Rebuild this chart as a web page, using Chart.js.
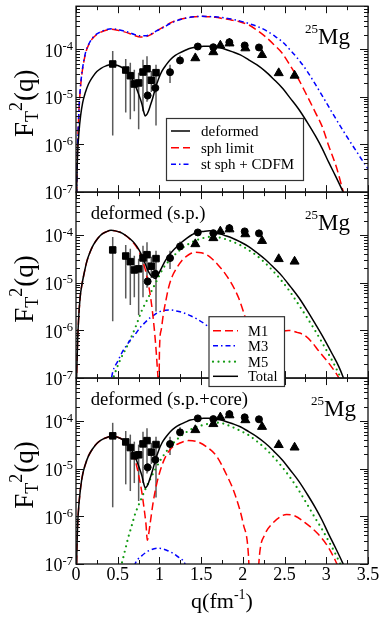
<!DOCTYPE html>
<html>
<head>
<meta charset="utf-8">
<script src="https://cdn.jsdelivr.net/npm/chart.js@4.4.1/dist/chart.umd.min.js"></script>
<style>
  html, body { margin: 0; padding: 0; background: #fff; }
  canvas { display: block; }
</style>
</head>
<body>
<canvas id="fig" width="382" height="618"></canvas>
<script>
// ---- data: [q (fm^-1), F_T^2] ----

// experimental points (same in all three panels)
const expSquares = [[0.44,4.9e-5],[0.596,3.65e-5],[0.651,2.78e-5],[0.699,1.86e-5],[0.751,1.96e-5],[0.803,3.32e-5],[0.851,3.89e-5],[0.903,2.23e-5],[0.959,3.22e-5]];
const errSquares = [[1.55e-6,9.2e-5],[4.7e-6,6.2e-5],[3.4e-6,5.2e-5],[5e-6,3.7e-5],[2.1e-6,3.2e-5],[5e-6,6e-5],[7.9e-6,7.1e-5],[1.26e-5,3.5e-5],[2.5e-6,4.7e-5]];
const expCircles = [[0.859,1.07e-5],[0.951,1.54e-5],[1.127,3.3e-5],[1.247,5.8e-5],[1.46,1.14e-4],[1.646,1.1e-4],[1.838,1.4e-4],[2.022,1.2e-4],[2.193,1.09e-4]];
const errCircles = [[8.5e-6,1.3e-5],[1.2e-5,1.9e-5],[1.95e-5,4.7e-5],[5e-5,7.4e-5],[1.05e-4,1.24e-4],[1e-4,1.2e-4],[1.3e-4,1.5e-4],[1.1e-4,1.3e-4],[1e-4,1.18e-4]];
const expTriangles = [[1.43,6.5e-5],[1.646,8.7e-5],[1.73,1.2e-4],[1.84,1.33e-4],[2.03,1.05e-4],[2.23,7.6e-5],[2.43,3.16e-5],[2.62,2.8e-5]];

// panel 1 (and total of panel 3): deformed
const deformed = [[0.003,3.2e-8],[0.01,1.78e-7],[0.02,6.8e-7],[0.035,1.78e-6],[0.055,3.98e-6],[0.08,7.6e-6],[0.11,1.2e-5],[0.15,1.86e-5],[0.2,2.63e-5],[0.25,3.39e-5],[0.3,3.98e-5],[0.36,4.47e-5],[0.43,4.79e-5],[0.5,4.57e-5],[0.567,3.98e-5],[0.62,3.24e-5],[0.67,2.4e-5],[0.71,1.74e-5],[0.75,1.15e-5],[0.79,7.1e-6],[0.81,5e-6],[0.83,3.98e-6],[0.85,4.27e-6],[0.87,5.1e-6],[0.89,6.5e-6],[0.92,9.5e-6],[0.95,1.48e-5],[0.99,2.4e-5],[1.03,3.47e-5],[1.08,4.68e-5],[1.13,6e-5],[1.19,7.4e-5],[1.25,8.5e-5],[1.31,9.5e-5],[1.37,1.05e-4],[1.45,1.11e-4],[1.53,1.15e-4],[1.61,1.15e-4],[1.69,1.12e-4],[1.77,1.02e-4],[1.87,8.9e-5],[1.97,7.6e-5],[2.07,6e-5],[2.17,4.68e-5],[2.27,3.43e-5],[2.37,2.34e-5],[2.47,1.55e-5],[2.57,9.3e-6],[2.67,5.5e-6],[2.77,2.95e-6],[2.87,1.51e-6],[2.95,8.3e-7],[3.03,4.2e-7],[3.11,2.19e-7],[3.2,1.02e-7],[3.24,7.1e-8]];
const sphLimit = [[0.005,5e-8],[0.015,5e-7],[0.03,3.16e-6],[0.045,1e-5],[0.065,2.51e-5],[0.09,5e-5],[0.12,8.9e-5],[0.16,1.32e-4],[0.2,1.7e-4],[0.25,2.04e-4],[0.3,2.29e-4],[0.36,2.51e-4],[0.43,2.63e-4],[0.5,2.51e-4],[0.57,2.34e-4],[0.64,2.14e-4],[0.7,1.95e-4],[0.77,1.8e-4],[0.83,1.82e-4],[0.9,2.04e-4],[0.97,2.45e-4],[1.05,2.95e-4],[1.13,3.55e-4],[1.21,4.07e-4],[1.31,4.47e-4],[1.41,4.79e-4],[1.5,4.9e-4],[1.6,4.79e-4],[1.67,4.68e-4],[1.77,4.37e-4],[1.87,4.07e-4],[1.97,3.72e-4],[2.07,3.24e-4],[2.17,2.51e-4],[2.27,1.84e-4],[2.37,1.26e-4],[2.47,8.3e-5],[2.57,4.47e-5],[2.67,2.29e-5],[2.77,1.05e-5],[2.87,4.68e-6],[2.95,2.4e-6],[3.03,9.3e-7],[3.12,3.4e-7],[3.2,1.07e-7],[3.23,7.1e-8]];
const stSphCdfm = [[0.005,5e-8],[0.015,5e-7],[0.03,3.16e-6],[0.045,1.05e-5],[0.065,2.63e-5],[0.09,5.25e-5],[0.12,9.3e-5],[0.16,1.35e-4],[0.2,1.74e-4],[0.25,2.09e-4],[0.3,2.34e-4],[0.36,2.57e-4],[0.43,2.69e-4],[0.5,2.6e-4],[0.57,2.43e-4],[0.64,2.24e-4],[0.7,2.04e-4],[0.77,1.91e-4],[0.83,1.91e-4],[0.9,2.09e-4],[0.97,2.45e-4],[1.05,2.88e-4],[1.13,3.47e-4],[1.21,3.98e-4],[1.31,4.47e-4],[1.41,4.79e-4],[1.5,4.9e-4],[1.6,4.84e-4],[1.67,4.79e-4],[1.77,4.57e-4],[1.87,4.27e-4],[1.97,3.89e-4],[2.07,3.47e-4],[2.17,3.02e-4],[2.27,2.51e-4],[2.37,1.95e-4],[2.47,1.45e-4],[2.57,9.5e-5],[2.67,6e-5],[2.77,3.47e-5],[2.87,1.82e-5],[2.97,9.3e-6],[3.07,4.68e-6],[3.17,2.4e-6],[3.27,1.26e-6],[3.37,6.8e-7],[3.43,4.68e-7],[3.5,3.1e-7]];

// panel 2: deformed (s.p.)
const spTotal = [[0.003,4e-8],[0.01,1.58e-7],[0.02,6.3e-7],[0.03,1.58e-6],[0.05,5e-6],[0.07,8.9e-6],[0.1,1.66e-5],[0.13,2.82e-5],[0.17,4.47e-5],[0.21,6.3e-5],[0.26,8.5e-5],[0.31,1.05e-4],[0.36,1.17e-4],[0.42,1.26e-4],[0.47,1.23e-4],[0.53,1.15e-4],[0.59,1e-4],[0.65,8.3e-5],[0.7,6.8e-5],[0.75,5.1e-5],[0.79,3.72e-5],[0.83,2.51e-5],[0.87,1.7e-5],[0.91,1.35e-5],[0.95,1.23e-5],[0.99,1.55e-5],[1.03,2.14e-5],[1.08,3.09e-5],[1.15,4.47e-5],[1.21,5.75e-5],[1.27,7.2e-5],[1.33,8.7e-5],[1.39,1.02e-4],[1.45,1.15e-4],[1.53,1.2e-4],[1.6,1.23e-4],[1.67,1.15e-4],[1.77,1e-4],[1.87,8.7e-5],[1.97,7.2e-5],[2.07,5.75e-5],[2.17,4.27e-5],[2.27,3.09e-5],[2.37,2.09e-5],[2.47,1.38e-5],[2.57,8.3e-6],[2.67,4.9e-6],[2.77,2.63e-6],[2.87,1.35e-6],[2.97,6.8e-7],[3.07,3.24e-7],[3.15,1.74e-7],[3.2,1.07e-7],[3.23,7.6e-8]];
const spM1 = [[0.003,4e-8],[0.01,1.58e-7],[0.02,6.3e-7],[0.03,1.58e-6],[0.05,5e-6],[0.07,8.9e-6],[0.1,1.66e-5],[0.13,2.82e-5],[0.17,4.47e-5],[0.21,6.3e-5],[0.26,8.5e-5],[0.31,1.05e-4],[0.36,1.17e-4],[0.42,1.26e-4],[0.47,1.23e-4],[0.53,1.15e-4],[0.59,1e-4],[0.65,8.1e-5],[0.7,6.5e-5],[0.75,4.79e-5],[0.79,3.24e-5],[0.83,1.91e-5],[0.87,8.9e-6],[0.9,4.17e-6],[0.93,1.51e-6],[0.955,5e-7],[0.975,1.58e-7],[0.985,5e-8],[0.99,1e-9],[1.0,3.5e-7],[1.02,1e-6],[1.047,2.19e-6],[1.08,4.47e-6],[1.107,7.6e-6],[1.15,1.32e-5],[1.207,2.04e-5],[1.27,2.95e-5],[1.327,3.63e-5],[1.37,4.07e-5],[1.427,4.37e-5],[1.5,4.27e-5],[1.55,3.98e-5],[1.6,3.55e-5],[1.7,2.4e-5],[1.8,1.45e-5],[1.9,7.4e-6],[1.95,4.79e-6],[2.0,2.69e-6],[2.05,1.32e-6],[2.1,4.47e-7],[2.13,1.26e-7],[2.15,1e-9],[2.17,1.26e-7],[2.21,3.16e-7],[2.28,5.6e-7],[2.36,7.9e-7],[2.45,9.3e-7],[2.55,1e-6],[2.65,9.1e-7],[2.745,7.8e-7],[2.83,5.6e-7],[2.905,3.8e-7],[2.99,2.51e-7],[3.065,1.7e-7],[3.145,1.05e-7],[3.18,7.9e-8]];
const spM3 = [[0.38,3.16e-8],[0.44,1.33e-7],[0.5,2.24e-7],[0.55,3.4e-7],[0.6,4.68e-7],[0.65,6.2e-7],[0.7,7.9e-7],[0.77,1.15e-6],[0.83,1.48e-6],[0.89,1.86e-6],[0.95,2.19e-6],[1.01,2.51e-6],[1.07,2.66e-6],[1.13,2.69e-6],[1.2,2.57e-6],[1.29,2.34e-6],[1.37,2.04e-6],[1.45,1.74e-6],[1.57,1.26e-6],[1.7,7.6e-7],[1.85,3.5e-7],[2.0,1.41e-7],[2.1,6.3e-8]];
const spM5 = [[0.4,5e-8],[0.447,1e-7],[0.527,2.34e-7],[0.587,3.8e-7],[0.647,6.2e-7],[0.687,9.1e-7],[0.727,1.35e-6],[0.787,2.57e-6],[0.847,4.17e-6],[0.907,6.8e-6],[0.975,1.17e-5],[1.047,2.04e-5],[1.147,3.31e-5],[1.247,4.9e-5],[1.367,6.8e-5],[1.526,8.7e-5],[1.646,9.3e-5],[1.766,8.5e-5],[1.866,7.4e-5],[1.966,6.2e-5],[2.066,4.9e-5],[2.165,3.72e-5],[2.265,2.63e-5],[2.365,1.74e-5],[2.465,1.1e-5],[2.565,6.5e-6],[2.665,3.55e-6],[2.765,1.91e-6],[2.865,1e-6],[2.945,5.75e-7],[3.025,3.24e-7],[3.09,2e-7],[3.15,1.23e-7],[3.18,9.5e-8],[3.2,7.9e-8]];

// panel 3: deformed (s.p.+core); total is the "deformed" curve above
const coreM1 = [[0.003,3.2e-8],[0.01,1.78e-7],[0.02,6.8e-7],[0.035,1.78e-6],[0.055,3.98e-6],[0.08,7.6e-6],[0.11,1.2e-5],[0.15,1.86e-5],[0.2,2.63e-5],[0.25,3.39e-5],[0.3,3.98e-5],[0.36,4.47e-5],[0.43,4.79e-5],[0.5,4.57e-5],[0.567,3.98e-5],[0.62,3.16e-5],[0.67,2.29e-5],[0.71,1.51e-5],[0.747,7.9e-6],[0.787,3.39e-6],[0.815,1.51e-6],[0.839,6.8e-7],[0.855,3.16e-7],[0.887,6.8e-7],[0.927,2.09e-6],[0.975,5.5e-6],[1.047,1.41e-5],[1.127,2.51e-5],[1.247,3.47e-5],[1.347,3.89e-5],[1.447,3.72e-5],[1.566,2.88e-5],[1.686,1.82e-5],[1.786,8.7e-6],[1.906,2.88e-6],[2.006,6.8e-7],[2.066,1.62e-7],[2.12,1e-9],[2.2,1.58e-7],[2.265,4.2e-7],[2.345,6.8e-7],[2.465,1.02e-6],[2.525,1.1e-6],[2.625,1.02e-6],[2.745,7.4e-7],[2.905,4.2e-7],[3.025,2.24e-7],[3.11,1.17e-7],[3.14,8.9e-8]];
const coreM3 = [[0.66,5e-8],[0.707,1e-7],[0.787,1.48e-7],[0.887,1.95e-7],[0.987,2.14e-7],[1.087,1.95e-7],[1.207,1.48e-7],[1.307,1e-7],[1.36,5e-8]];
const coreM5 = [[0.5,5e-8],[0.547,1e-7],[0.587,1.91e-7],[0.627,3.63e-7],[0.667,6.3e-7],[0.707,1.1e-6],[0.747,1.66e-6],[0.787,2.45e-6],[0.839,3.98e-6],[0.887,5.9e-6],[0.947,9.5e-6],[1.027,1.66e-5],[1.127,2.88e-5],[1.247,4.68e-5],[1.407,7.1e-5],[1.526,8.3e-5],[1.606,8.9e-5],[1.66,9.3e-5],[1.76,8.9e-5],[1.866,7.6e-5],[1.966,6.3e-5],[2.066,5.1e-5],[2.165,3.8e-5],[2.265,2.69e-5],[2.365,1.78e-5],[2.465,1.12e-5],[2.565,6.6e-6],[2.665,3.63e-6],[2.765,1.86e-6],[2.865,9.3e-7],[2.945,5.5e-7],[3.025,3.1e-7],[3.09,1.91e-7],[3.15,1.17e-7],[3.2,7.9e-8]];

// axes
const xTickValues = [0, 0.5, 1, 1.5, 2, 2.5, 3, 3.5];
const xTickLabels = ['0', '0.5', '1', '1.5', '2', '2.5', '3', '3.5'];
const yDecades = [-7, -6, -5, -4];
const panelIds = ['y1', 'y2', 'y3'];

const SERIF = "'Liberation Serif','Times New Roman',serif";
const RED = '#ff0000', BLUE = '#0000ff', GREEN = '#119a11', BLACK = '#000000';
const DASH = [8, 4], DASHDOT = [5, 3, 1.5, 3], DOT = [0, 5.5];

const toXY = pts => pts.map(p => ({x: p[0], y: p[1]}));

function curve(pts, axis, color, dash, order, width) {
  return {
    data: toXY(pts), yAxisID: axis, showLine: true, order: order,
    borderColor: color, borderWidth: width || 1.5, borderDash: dash,
    borderCapStyle: dash === DOT ? 'round' : 'butt', borderJoinStyle: 'round',
    pointRadius: 0, pointHoverRadius: 0, cubicInterpolationMode: 'monotone', fill: false
  };
}
function marks(pts, axis, style, r) {
  return {
    data: toXY(pts), yAxisID: axis, showLine: false, order: 0,
    pointStyle: style, pointRadius: r, pointHoverRadius: r,
    backgroundColor: BLACK, borderColor: BLACK, borderWidth: 1
  };
}

const datasets = [];
panelIds.forEach(id => {
  datasets.push(marks(expSquares, id, 'rect', 4.6));
  datasets.push(marks(expCircles, id, 'circle', 3.5));
  datasets.push(marks(expTriangles, id, 'triangle', 5.2));
});
datasets.push(curve(deformed, 'y1', BLACK, [], 1));
datasets.push(curve(sphLimit, 'y1', RED, DASH, 3));
datasets.push(curve(stSphCdfm, 'y1', BLUE, DASHDOT, 2));
datasets.push(curve(spTotal, 'y2', BLACK, [], 1));
datasets.push(curve(spM1, 'y2', RED, DASH, 2));
datasets.push(curve(spM3, 'y2', BLUE, DASHDOT, 2));
datasets.push(curve(spM5, 'y2', GREEN, DOT, 2, 2.2));
datasets.push(curve(deformed, 'y3', BLACK, [], 1));
datasets.push(curve(coreM1, 'y3', RED, DASH, 2));
datasets.push(curve(coreM3, 'y3', BLUE, DASHDOT, 2));
datasets.push(curve(coreM5, 'y3', GREEN, DOT, 2, 2.2));

// text with sub/superscripts
function rich(ctx, runs, x, y, align) {
  let w = 0;
  runs.forEach(r => { ctx.font = r.size + 'px ' + SERIF; r.w = ctx.measureText(r.t).width; w += r.w + (r.gap || 0); });
  let cx = align === 'center' ? x - w / 2 : align === 'right' ? x - w : x;
  ctx.textAlign = 'left';
  ctx.textBaseline = 'alphabetic';
  runs.forEach(r => { ctx.font = r.size + 'px ' + SERIF; ctx.fillText(r.t, cx, y + (r.dy || 0)); cx += r.w + (r.gap || 0); });
}
function seg(ctx, x1, y1, x2, y2) { ctx.beginPath(); ctx.moveTo(x1, y1); ctx.lineTo(x2, y2); ctx.stroke(); }

// keep each panel's curves inside its own box
const panelClip = {
  id: 'panelClip',
  beforeDatasetDraw(chart, args) {
    const ys = chart.scales[args.meta.yAxisID], a = chart.chartArea, ctx = chart.ctx;
    ctx.save();
    ctx.beginPath();
    ctx.rect(a.left, ys.top, a.right - a.left, ys.bottom - ys.top);
    ctx.clip();
  },
  afterDatasetDraw(chart) { chart.ctx.restore(); }
};

// error bars on the experimental points
const errorBars = {
  id: 'errorBars',
  beforeDatasetsDraw(chart) {
    const ctx = chart.ctx, xs = chart.scales.x, a = chart.chartArea;
    ctx.save();
    ctx.strokeStyle = '#5a5a5a';
    ctx.lineWidth = 1.5;
    panelIds.forEach(id => {
      const ys = chart.scales[id];
      ctx.save();
      ctx.beginPath(); ctx.rect(a.left, ys.top, a.right - a.left, ys.bottom - ys.top); ctx.clip();
      [[expSquares, errSquares], [expCircles, errCircles]].forEach(([pts, errs]) => {
        pts.forEach((p, i) => {
          const x = xs.getPixelForValue(p[0]);
          seg(ctx, x, ys.getPixelForValue(errs[i][0]), x, ys.getPixelForValue(errs[i][1]));
        });
      });
      ctx.restore();
    });
    ctx.restore();
  }
};

// frames, ticks, labels, legends
const decor = {
  id: 'decor',
  afterDatasetsDraw(chart) {
    const ctx = chart.ctx, xs = chart.scales.x, a = chart.chartArea;
    ctx.save();
    ctx.strokeStyle = '#111';
    ctx.lineWidth = 1;
    panelIds.forEach(id => {
      const ys = chart.scales[id];
      yDecades.forEach(e => {
        for (let k = 1; k <= 9; k++) {
          const v = k * Math.pow(10, e);
          if (v > ys.max * 1.0001) continue;
          const y = Math.round(ys.getPixelForValue(v)) + 0.5;
          const len = k === 1 ? 8 : 4;
          seg(ctx, a.left, y, a.left + len, y);
          seg(ctx, a.right, y, a.right - len, y);
        }
      });
      for (let t = 0; t <= 14; t++) {
        const x = Math.round(xs.getPixelForValue(t * 0.25)) + 0.5;
        const len = t % 2 === 0 ? 7 : 4;
        seg(ctx, x, ys.bottom, x, ys.bottom - len);
        seg(ctx, x, ys.top, x, ys.top + len);
      }
      ctx.lineWidth = 1.3;
      ctx.strokeRect(a.left, ys.top, a.right - a.left, ys.bottom - ys.top);
      ctx.lineWidth = 1;
    });
    ctx.restore();
  },
  afterDraw(chart) {
    const ctx = chart.ctx, xs = chart.scales.x, a = chart.chartArea;
    ctx.save();
    ctx.fillStyle = '#000';
    panelIds.forEach((id, pi) => {
      const ys = chart.scales[id];
      yDecades.forEach(e => {
        const y = ys.getPixelForValue(Math.pow(10, e));
        rich(ctx, [{t: '10', size: 18}, {t: '-' + (-e), size: 12.5, dy: -6.6}], 73, y + 7.3, 'right');
      });
      // axis title
      ctx.save();
      ctx.translate(33, (ys.top + ys.bottom) / 2 + 4);
      ctx.rotate(-Math.PI / 2);
      rich(ctx, [{t: 'F', size: 27}, {t: 'T', size: 18, dy: 5}, {t: '2', size: 18, dy: -11, gap: 1}, {t: '(q)', size: 27}], 0, 0, 'center');
      ctx.restore();
      // nucleus label
      rich(ctx, [{t: '25', size: 13, dy: -11.4}, {t: 'Mg', size: 23}], [305, 305, 311][pi], ys.top + 38, 'left');
    });
    // panel captions
    rich(ctx, [{t: 'deformed (s.p.)', size: 18.7}], 90.7, chart.scales.y2.top + 26.7, 'left');
    rich(ctx, [{t: 'deformed (s.p.+core)', size: 18.7}], 90.7, chart.scales.y3.top + 26.7, 'left');
    // x tick labels and title
    xTickValues.forEach((v, i) => rich(ctx, [{t: xTickLabels[i], size: 18}], xs.getPixelForValue(v), 579.5, 'center'));
    rich(ctx, [{t: 'q(fm', size: 22}, {t: '-1', size: 14, dy: -9}, {t: ')', size: 22}], (a.left + a.right) / 2, 608, 'center');

    // legends
    const legend = (box, rows, lineX, textX, size, items) => {
      ctx.fillStyle = '#fff';
      ctx.fillRect(box[0], box[1], box[2] - box[0], box[3] - box[1]);
      ctx.strokeStyle = '#333';
      ctx.lineWidth = 1.2;
      ctx.strokeRect(box[0], box[1], box[2] - box[0], box[3] - box[1]);
      items.forEach((it, i) => {
        ctx.save();
        ctx.strokeStyle = it.color;
        ctx.lineWidth = it.dash === DOT ? 2.2 : 1.5;
        ctx.lineCap = it.dash === DOT ? 'round' : 'butt';
        ctx.setLineDash(it.dash);
        seg(ctx, lineX[0], rows[i], lineX[1], rows[i]);
        ctx.restore();
        ctx.fillStyle = '#000';
        rich(ctx, [{t: it.label, size: size}], textX, rows[i] + 5, 'left');
      });
    };
    legend([166.5, 118.5, 303.5, 180.5], [131, 147.7, 164.3], [171, 190], 201, 15, [
      {label: 'deformed', color: BLACK, dash: []},
      {label: 'sph limit', color: RED, dash: DASH},
      {label: 'st sph + CDFM', color: BLUE, dash: DASHDOT}
    ]);
    legend([209, 316.7, 284.5, 386.5], [330.7, 345.7, 361.7, 376.3], [213, 238], 248, 14.5, [
      {label: 'M1', color: RED, dash: DASH},
      {label: 'M3', color: BLUE, dash: DASHDOT},
      {label: 'M5', color: GREEN, dash: DOT},
      {label: 'Total', color: BLACK, dash: []}
    ]);
    ctx.restore();
  }
};

const yPanel = w => ({type: 'logarithmic', min: 1e-7, max: 8e-4, position: 'left', stack: 'panels', stackWeight: 1, weight: w, display: false});

new Chart(document.getElementById('fig'), {
  type: 'scatter',
  data: {datasets: datasets},
  options: {
    responsive: false, animation: false, devicePixelRatio: 1,
    layout: {padding: {left: 76, right: 14, top: 3, bottom: 54}},
    plugins: {legend: {display: false}, tooltip: {enabled: false}},
    scales: {
      x: {type: 'linear', min: 0, max: 3.5, display: false},
      y1: yPanel(3),
      y2: yPanel(2),
      y3: yPanel(1)
    }
  },
  plugins: [panelClip, errorBars, decor]
});
</script>
</body>
</html>
